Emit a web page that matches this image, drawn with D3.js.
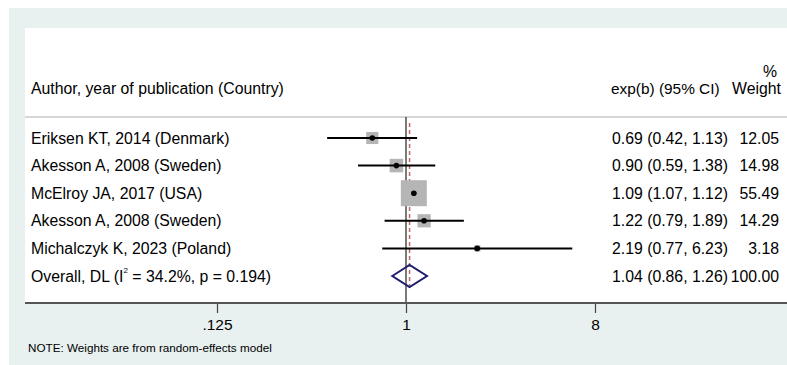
<!DOCTYPE html>
<html><head><meta charset="utf-8">
<script src="https://cdn.jsdelivr.net/npm/d3@7"></script>
<style>
html,body{margin:0;padding:0;background:#fff;}
text{font-family:"Liberation Sans",Arial,sans-serif;fill:#000;}
</style></head>
<body>
<svg id="chart" width="787" height="365"></svg>
<script>
const studies = ["Eriksen KT, 2014 (Denmark)","Akesson A, 2008 (Sweden)","McElroy JA, 2017 (USA)","Akesson A, 2008 (Sweden)","Michalczyk K, 2023 (Poland)"];
const estimates = [0.69, 0.90, 1.09, 1.22, 2.19];
const lower = [0.42, 0.59, 1.07, 0.79, 0.77];
const upper = [1.13, 1.38, 1.12, 1.89, 6.23];
const weights = [12.05, 14.98, 55.49, 14.29, 3.18];
const overall = {est: 1.04, lo: 0.86, hi: 1.26, weight: 100.00, i2: "34.2%", p: "0.194"};
const tickValues = [0.125, 1, 8];
const tickLabels = [".125", "1", "8"];

const svg = d3.select("#chart");
const W = 787, H = 365;
svg.append("rect").attr("x",9).attr("y",8).attr("width",W-9).attr("height",H-8).attr("fill","#e8f1f0");
svg.append("rect").attr("x",25).attr("y",28).attr("width",W-25).attr("height",303-28).attr("fill","#fff");

const x = d3.scaleLog().base(2).domain([0.125, 8]).range([217, 595]);
const rows = d3.range(studies.length + 1);
const y = d3.scalePoint().domain(rows).range([138, 276]);

const fs = 15.8, hfs = 15.4;
svg.append("text").attr("x",31).attr("y",88).attr("dominant-baseline","central").attr("font-size",fs)
  .text("Author, year of publication (Country)");
svg.append("text").attr("x",611).attr("y",88).attr("dominant-baseline","central").attr("font-size",hfs)
  .text("exp(b) (95% CI)");
svg.append("text").attr("x",781).attr("y",88).attr("dominant-baseline","central").attr("text-anchor","end").attr("font-size",fs)
  .text("Weight");
svg.append("text").attr("x",777).attr("y",71).attr("dominant-baseline","central").attr("text-anchor","end").attr("font-size",fs)
  .text("%");

svg.append("line").attr("x1",25).attr("x2",W).attr("y1",117).attr("y2",117).attr("stroke","#c8c8c8").attr("stroke-width",1.5);

svg.append("line").attr("x1",x(1)).attr("x2",x(1)).attr("y1",117).attr("y2",303).attr("stroke","#333").attr("stroke-width",1.3);
svg.append("line").attr("x1",x(overall.est)).attr("x2",x(overall.est)).attr("y1",123).attr("y2",289)
  .attr("stroke","#c06464").attr("stroke-width",1.5).attr("stroke-dasharray","4,3");

const maxW = d3.max(weights);
const side = d3.scaleSqrt().domain([0, maxW]).range([0, 26]);
const data = studies.map((s,i)=>({s, est:estimates[i], lo:lower[i], hi:upper[i], w:weights[i], i}));
svg.selectAll("rect.box").data(data).join("rect").attr("class","box")
  .attr("x",d=>x(d.est)-side(d.w)/2).attr("y",d=>y(d.i)-side(d.w)/2)
  .attr("width",d=>side(d.w)).attr("height",d=>side(d.w)).attr("fill","#b5b5b5");
svg.selectAll("line.ci").data(data).join("line").attr("class","ci")
  .attr("x1",d=>x(d.lo)).attr("x2",d=>x(d.hi)).attr("y1",d=>y(d.i)).attr("y2",d=>y(d.i))
  .attr("stroke","#000").attr("stroke-width",2);
svg.selectAll("circle.pt").data(data).join("circle").attr("class","pt")
  .attr("cx",d=>x(d.est)).attr("cy",d=>y(d.i)).attr("r",2.8).attr("fill","#000");

svg.selectAll("text.lab").data(data).join("text").attr("class","lab")
  .attr("x",31).attr("y",d=>y(d.i)).attr("dominant-baseline","central").attr("font-size",fs).text(d=>d.s);
svg.selectAll("text.ci").data(data).join("text").attr("class","ci")
  .attr("x",612).attr("y",d=>y(d.i)).attr("dominant-baseline","central").attr("font-size",fs)
  .text(d=>`${d.est.toFixed(2)} (${d.lo.toFixed(2)}, ${d.hi.toFixed(2)})`);
svg.selectAll("text.wt").data(data).join("text").attr("class","wt")
  .attr("x",779).attr("y",d=>y(d.i)).attr("dominant-baseline","central").attr("text-anchor","end").attr("font-size",fs)
  .text(d=>d.w.toFixed(2));

const oy = y(studies.length);
const ol = svg.append("text").attr("x",31).attr("y",oy).attr("dominant-baseline","central").attr("font-size",fs);
ol.append("tspan").text("Overall, DL (I");
ol.append("tspan").attr("font-size",8).attr("dy",-6).text("2");
ol.append("tspan").attr("dy",6).text(` = ${overall.i2}, p = ${overall.p})`);
svg.append("text").attr("x",612).attr("y",oy).attr("dominant-baseline","central").attr("font-size",fs)
  .text(`${overall.est.toFixed(2)} (${overall.lo.toFixed(2)}, ${overall.hi.toFixed(2)})`);
svg.append("text").attr("x",779).attr("y",oy).attr("dominant-baseline","central").attr("text-anchor","end").attr("font-size",fs)
  .text(overall.weight.toFixed(2));
const dh = 11;
svg.append("path")
  .attr("d",`M${x(overall.lo)},${oy} L${x(overall.est)},${oy-dh} L${x(overall.hi)},${oy} L${x(overall.est)},${oy+dh} Z`)
  .attr("fill","none").attr("stroke","#1f1f6e").attr("stroke-width",2);

const axis = d3.axisBottom(x).tickValues(tickValues).tickFormat((d,i)=>tickLabels[i]).tickSize(10).tickPadding(6);
const ag = svg.append("g").attr("transform","translate(0,303)").call(axis);
ag.select(".domain").remove();
ag.selectAll(".tick line").attr("stroke","#444").attr("stroke-width",1.2);
ag.selectAll(".tick text").attr("font-size",15.5).attr("font-family","Liberation Sans, Arial, sans-serif").attr("fill","#000");
svg.append("line").attr("x1",25).attr("x2",W).attr("y1",303).attr("y2",303).attr("stroke","#555").attr("stroke-width",2);

svg.append("text").attr("x",28).attr("y",347).attr("dominant-baseline","central").attr("font-size",11.7)
  .text("NOTE: Weights are from random-effects model");
</script>
</body></html>
